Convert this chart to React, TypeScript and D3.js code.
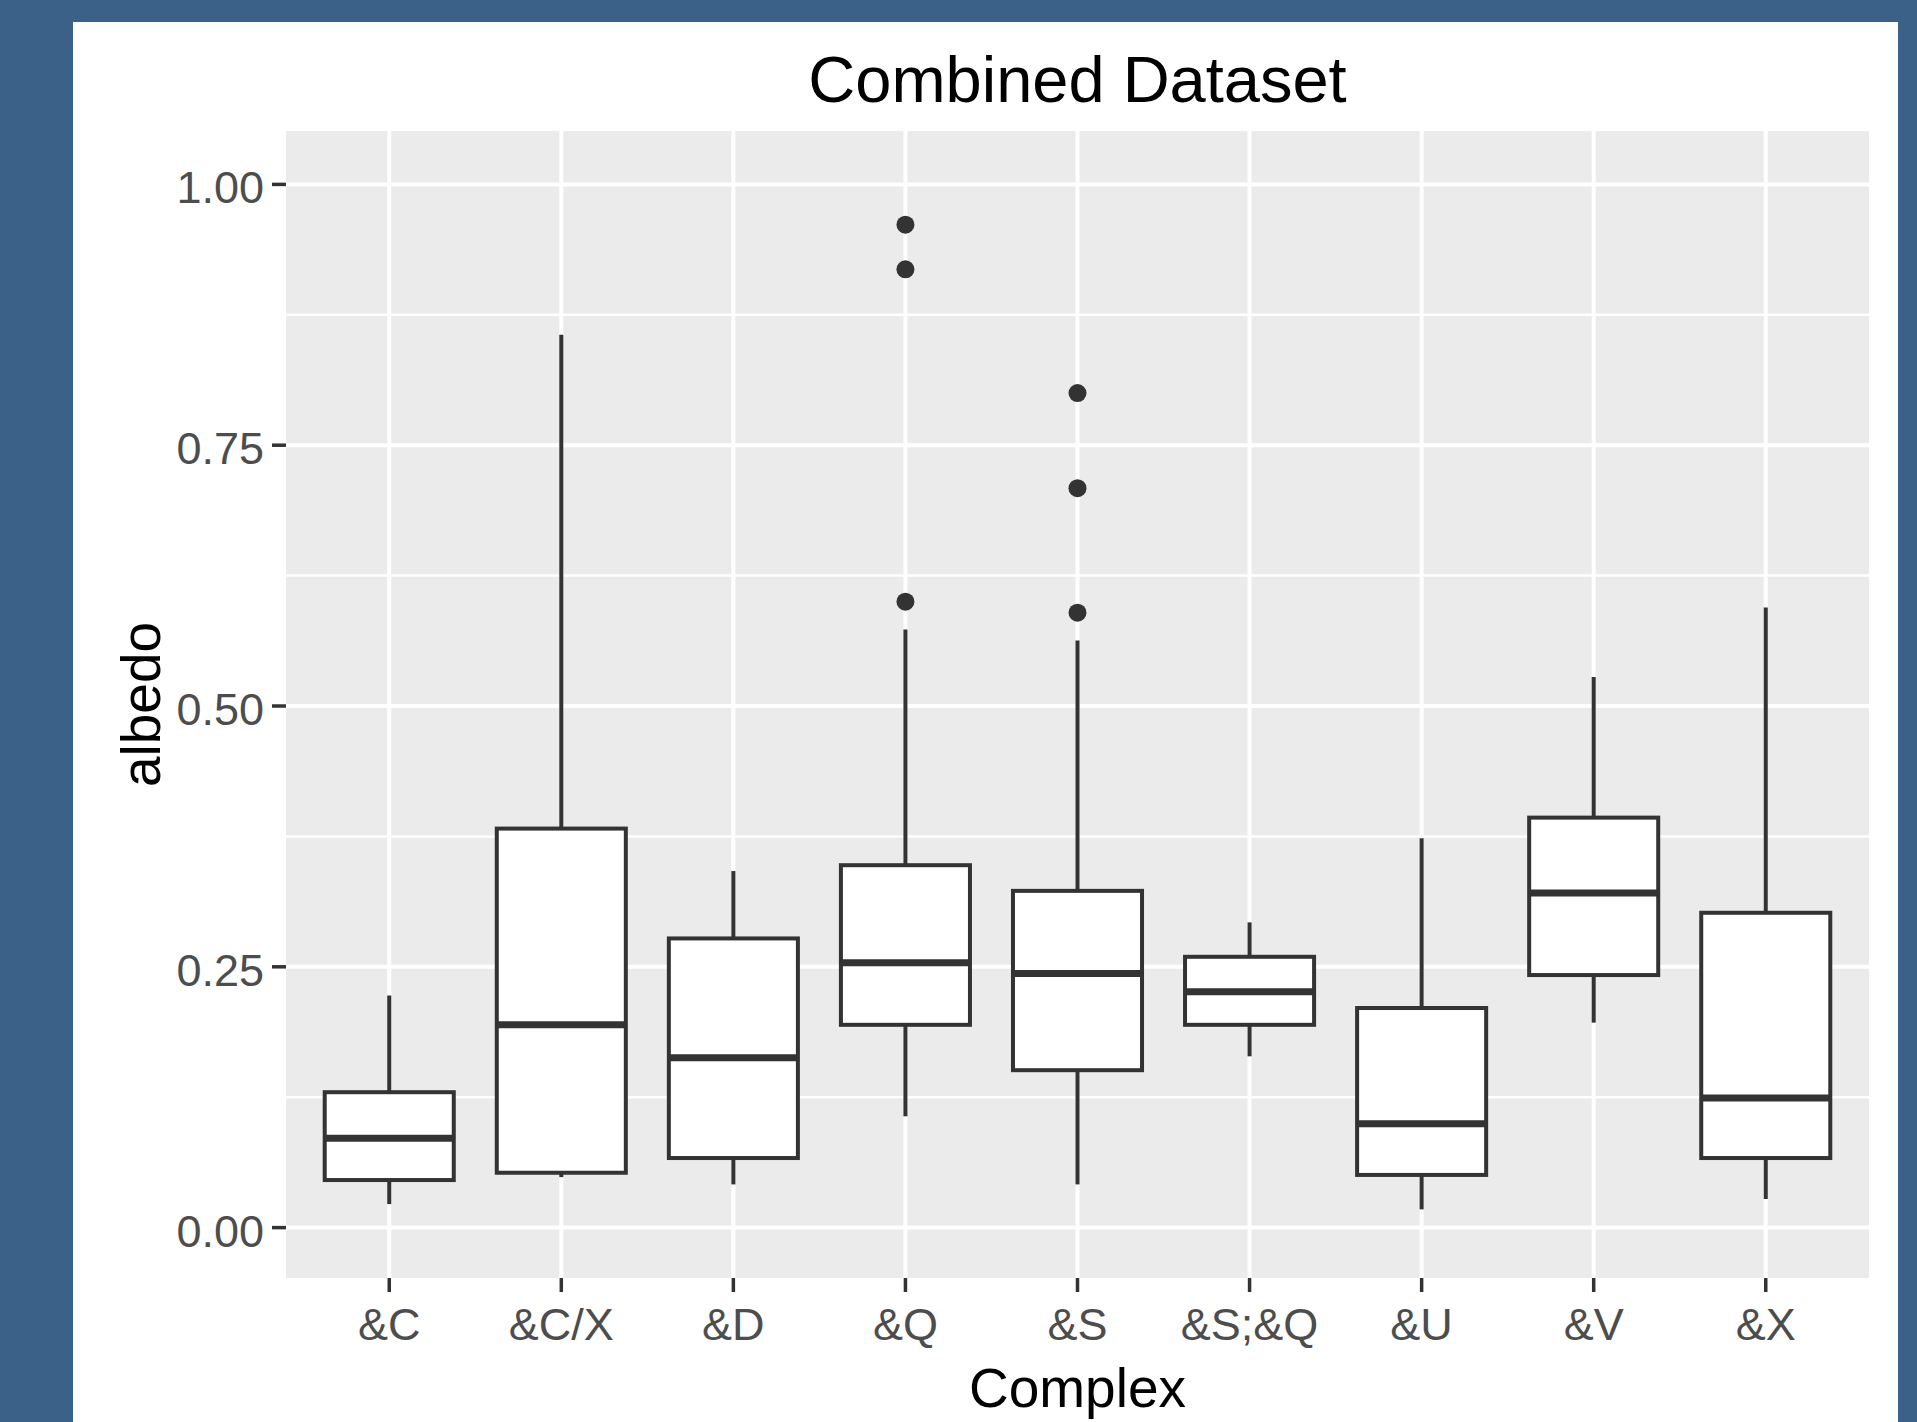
import React, { useEffect, useRef } from "react";
import * as d3 from "d3";

// values
const categories = ["&C", "&C/X", "&D", "&Q", "&S", "&S;&Q", "&U", "&V", "&X"];
const whiskerLow = [0.0225, 0.0484, 0.0414, 0.1067, 0.0414, 0.1642, 0.0175, 0.1965, 0.0274];
const lowerQuartile = [0.0456, 0.0526, 0.0667, 0.1944, 0.1509, 0.1944, 0.0505, 0.2421, 0.0667];
const medians = [0.0856, 0.1944, 0.1628, 0.254, 0.2435, 0.226, 0.0996, 0.3207, 0.1242];
const upperQuartile = [0.1298, 0.3825, 0.2772, 0.3474, 0.3228, 0.2596, 0.2105, 0.393, 0.3018];
const whiskerHigh = [0.2225, 0.856, 0.3418, 0.5733, 0.5628, 0.2926, 0.3733, 0.5277, 0.5944];
const outlierCats = ["&Q", "&Q", "&Q", "&S", "&S", "&S"];
const outlierValues = [0.9614, 0.9186, 0.6, 0.8, 0.7088, 0.5895];
const yTicks = [0, 0.25, 0.5, 0.75, 1];
const yMinor = [0.125, 0.375, 0.625, 0.875];

const W = 1917;
const H = 1422;
const font = "'Liberation Sans', Arial, Helvetica, sans-serif";

export default function App() {
  const ref = useRef<SVGSVGElement>(null);

  useEffect(() => {
    document.body.style.margin = "0";
    const svg = d3.select(ref.current);
    svg.selectAll("*").remove();

    const panel = { left: 286, right: 1869, top: 131, bottom: 1278 };

    // frame
    svg.append("rect").attr("width", W).attr("height", H).attr("fill", "#3b6189");
    svg.append("rect").attr("x", 73).attr("y", 22).attr("width", 1898 - 73).attr("height", H - 22).attr("fill", "#ffffff");

    const x = d3.scalePoint<string>().domain(categories).range([panel.left, panel.right]).padding(0.6);
    const y = d3.scaleLinear().domain([-0.0483, 1.0512]).range([panel.bottom, panel.top]);
    const boxW = x.step() * 0.75;

    svg.append("rect")
      .attr("x", panel.left).attr("y", panel.top)
      .attr("width", panel.right - panel.left).attr("height", panel.bottom - panel.top)
      .attr("fill", "#ebebeb");

    const grid = svg.append("g");
    grid.selectAll(".minor").data(yMinor).enter().append("line")
      .attr("x1", panel.left).attr("x2", panel.right)
      .attr("y1", d => y(d)).attr("y2", d => y(d))
      .attr("stroke", "#ffffff").attr("stroke-width", 2.5);
    grid.selectAll(".major").data(yTicks).enter().append("line")
      .attr("x1", panel.left).attr("x2", panel.right)
      .attr("y1", d => y(d)).attr("y2", d => y(d))
      .attr("stroke", "#ffffff").attr("stroke-width", 4);
    grid.selectAll(".vmajor").data(categories).enter().append("line")
      .attr("x1", d => x(d)!).attr("x2", d => x(d)!)
      .attr("y1", panel.top).attr("y2", panel.bottom)
      .attr("stroke", "#ffffff").attr("stroke-width", 4);

    // boxes
    const boxes = svg.append("g");
    categories.forEach((c, i) => {
      const cx = x(c)!;
      boxes.append("line")
        .attr("x1", cx).attr("x2", cx)
        .attr("y1", y(whiskerHigh[i])).attr("y2", y(upperQuartile[i]))
        .attr("stroke", "#333333").attr("stroke-width", 4);
      boxes.append("line")
        .attr("x1", cx).attr("x2", cx)
        .attr("y1", y(lowerQuartile[i])).attr("y2", y(whiskerLow[i]))
        .attr("stroke", "#333333").attr("stroke-width", 4);
      boxes.append("rect")
        .attr("x", cx - boxW / 2).attr("width", boxW)
        .attr("y", y(upperQuartile[i])).attr("height", y(lowerQuartile[i]) - y(upperQuartile[i]))
        .attr("fill", "#ffffff").attr("stroke", "#333333").attr("stroke-width", 4);
      boxes.append("line")
        .attr("x1", cx - boxW / 2).attr("x2", cx + boxW / 2)
        .attr("y1", y(medians[i])).attr("y2", y(medians[i]))
        .attr("stroke", "#333333").attr("stroke-width", 7);
    });

    boxes.selectAll(".outlier").data(outlierValues).enter().append("circle")
      .attr("cx", (d, i) => x(outlierCats[i])!)
      .attr("cy", d => y(d))
      .attr("r", 9)
      .attr("fill", "#333333");

    // y axis
    const yAxis = svg.append("g");
    yAxis.selectAll("line").data(yTicks).enter().append("line")
      .attr("x1", panel.left - 14).attr("x2", panel.left)
      .attr("y1", d => y(d)).attr("y2", d => y(d))
      .attr("stroke", "#333333").attr("stroke-width", 3.5);
    yAxis.selectAll("text").data(yTicks).enter().append("text")
      .attr("x", panel.left - 22)
      .attr("y", d => y(d) + 19)
      .attr("text-anchor", "end")
      .attr("font-family", font).attr("font-size", 45)
      .attr("fill", "#4d4d4d")
      .text(d => d3.format(".2f")(d));

    // x axis
    const xAxis = svg.append("g");
    xAxis.selectAll("line").data(categories).enter().append("line")
      .attr("x1", d => x(d)!).attr("x2", d => x(d)!)
      .attr("y1", panel.bottom).attr("y2", panel.bottom + 14)
      .attr("stroke", "#333333").attr("stroke-width", 3.5);
    xAxis.selectAll("text").data(categories).enter().append("text")
      .attr("x", d => x(d)!)
      .attr("y", 1340)
      .attr("text-anchor", "middle")
      .attr("font-family", font).attr("font-size", 45)
      .attr("fill", "#4d4d4d")
      .text(d => d);

    // titles
    const midX = (panel.left + panel.right) / 2;
    const midY = (panel.top + panel.bottom) / 2;
    svg.append("text")
      .attr("x", midX).attr("y", 1407)
      .attr("text-anchor", "middle")
      .attr("font-family", font).attr("font-size", 55)
      .attr("fill", "#000000")
      .text("Complex");
    svg.append("text")
      .attr("transform", `translate(160,${midY}) rotate(-90)`)
      .attr("text-anchor", "middle")
      .attr("font-family", font).attr("font-size", 55)
      .attr("fill", "#000000")
      .text("albedo");
    svg.append("text")
      .attr("x", midX).attr("y", 102)
      .attr("text-anchor", "middle")
      .attr("font-family", font).attr("font-size", 65)
      .attr("fill", "#000000")
      .text("Combined Dataset");
  }, []);

  return <svg ref={ref} width={W} height={H} style={{ display: "block" }} />;
}
